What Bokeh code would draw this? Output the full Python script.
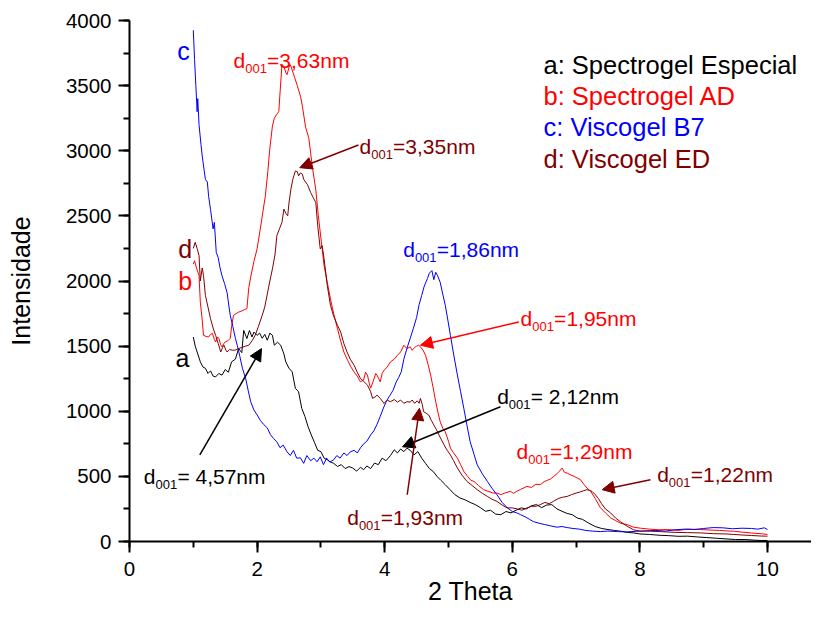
import math
from bokeh.plotting import figure
from bokeh.models import Range1d, Label, Arrow, NormalHead, SingleIntervalTicker
from bokeh.embed import file_html
from bokeh.resources import INLINE

# ---------------- data ----------------
a_x = [1.00,1.03,1.06,1.11,1.15,1.19,1.23,1.27,1.31,1.35,
       1.40,1.45,1.50,1.55,1.60,1.66,1.71,1.76,1.79,1.84,
       1.88,1.92,1.95,2.00,2.04,2.08,2.12,2.16,2.20,2.24,
       2.27,2.32,2.37,2.42,2.45,2.50,2.55,2.60,2.65,2.70,
       2.75,2.80,2.85,2.90,2.95,3.00,3.05,3.10,3.15,3.20,
       3.26,3.32,3.38,3.44,3.50,3.56,3.62,3.67,3.72,3.78,
       3.84,3.90,3.96,4.02,4.09,4.15,4.20,4.25,4.30,4.35,
       4.40,4.46,4.52,4.58,4.64,4.70,4.76,4.82,4.88,4.95,
       5.02,5.10,5.18,5.26,5.34,5.42,5.50,5.58,5.66,5.74,
       5.82,5.90,5.98,6.06,6.14,6.22,6.30,6.38,6.46,6.54,
       6.62,6.70,6.78,6.86,6.94,7.02,7.10,7.20,7.30,7.40,
       7.50,7.60,7.70,7.80,7.90,8.00,8.15,8.30,8.45,8.60,
       8.75,8.90,9.05,9.20,9.35,9.50,9.65,9.80,9.90,10.00]
a_y = [1570,1500,1455,1380,1340,1330,1290,1310,1270,1264,
       1290,1277,1320,1300,1379,1400,1481,1450,1621,1558,
       1620,1570,1608,1583,1600,1560,1590,1545,1600,1583,
       1507,1530,1507,1440,1379,1330,1303,1176,1150,1022,
       960,880,818,760,700,690,640,627,610,600,
       576,590,560,575,564,540,570,551,580,560,
       602,590,640,620,660,704,680,710,690,717,
       700,665,690,640,600,560,538,500,470,436,
       400,360,334,320,300,283,260,232,240,210,
       206,230,220,240,258,250,275,283,260,280,
       283,250,232,215,206,180,170,140,115,100,
       92,85,79,70,66,58,54,48,45,40,
       41,35,30,25,20,15,15,10,8,8]

b_x = [1.00,1.02,1.05,1.09,1.11,1.14,1.16,1.20,1.24,1.27,
       1.30,1.33,1.35,1.38,1.40,1.43,1.45,1.48,1.50,1.54,
       1.58,1.60,1.63,1.67,1.71,1.76,1.80,1.84,1.87,1.90,
       1.95,2.00,2.05,2.10,2.13,2.17,2.20,2.24,2.27,2.31,
       2.34,2.37,2.39,2.42,2.45,2.47,2.50,2.52,2.55,2.59,
       2.63,2.68,2.71,2.76,2.81,2.86,2.92,2.96,3.00,3.05,
       3.10,3.15,3.20,3.26,3.31,3.36,3.42,3.47,3.52,3.57,
       3.62,3.67,3.70,3.73,3.76,3.78,3.82,3.86,3.88,3.93,
       3.96,3.99,4.04,4.09,4.15,4.20,4.25,4.30,4.35,4.40,
       4.43,4.47,4.50,4.53,4.56,4.60,4.64,4.68,4.72,4.76,
       4.80,4.84,4.87,4.91,4.95,5.00,5.03,5.08,5.14,5.19,
       5.24,5.30,5.35,5.40,5.47,5.55,5.62,5.70,5.76,5.82,
       5.90,5.97,6.02,6.07,6.13,6.18,6.23,6.30,6.37,6.44,
       6.50,6.55,6.60,6.65,6.70,6.74,6.78,6.82,6.86,6.92,
       6.97,7.02,7.07,7.12,7.17,7.23,7.30,7.38,7.46,7.54,
       7.62,7.70,7.80,7.90,8.01,8.15,8.30,8.43,8.60,8.75,
       8.95,9.10,9.25,9.40,9.47,9.60,9.75,9.90,10.00]
b_y = [2130,2156,2100,2042,1838,1700,1583,1575,1570,1590,
       1598,1550,1532,1570,1560,1510,1494,1520,1532,1540,
       1560,1650,1736,1750,1761,1770,1780,1787,1950,2030,
       2150,2247,2400,2560,2654,2850,3020,3189,3250,3281,
       3300,3520,3661,3648,3600,3585,3640,3661,3620,3560,
       3500,3419,3342,3180,3100,2900,2700,2500,2330,2119,
       1990,1863,1750,1634,1540,1455,1390,1340,1302,1270,
       1226,1240,1300,1277,1210,1177,1230,1290,1277,1226,
       1290,1315,1340,1379,1400,1430,1455,1507,1481,1495,
       1468,1490,1500,1507,1495,1470,1430,1360,1277,1180,
       1073,980,920,870,843,770,717,680,640,590,
       538,500,470,461,430,398,385,372,372,360,
       375,385,370,385,400,411,423,415,440,436,
       460,470,480,500,520,540,564,530,525,510,
       500,487,474,440,411,385,330,260,220,182,
       160,140,130,110,102,95,90,92,85,95,
       92,88,85,80,79,72,65,60,54]

c_x = [1.00,1.02,1.04,1.06,1.07,1.09,1.12,1.14,1.17,1.19,
       1.22,1.24,1.27,1.31,1.33,1.36,1.39,1.42,1.45,1.49,
       1.53,1.56,1.58,1.62,1.66,1.69,1.73,1.77,1.82,1.86,
       1.90,1.95,2.00,2.05,2.10,2.16,2.21,2.26,2.31,2.36,
       2.41,2.47,2.52,2.57,2.62,2.68,2.73,2.78,2.84,2.89,
       2.94,2.99,3.04,3.09,3.14,3.20,3.25,3.30,3.36,3.41,
       3.46,3.52,3.57,3.62,3.67,3.72,3.78,3.83,3.88,3.93,
       3.98,4.03,4.08,4.13,4.18,4.22,4.26,4.30,4.35,4.40,
       4.45,4.50,4.54,4.58,4.62,4.67,4.70,4.74,4.77,4.80,
       4.83,4.87,4.91,4.95,4.99,5.03,5.08,5.14,5.19,5.24,
       5.29,5.34,5.40,5.45,5.53,5.61,5.68,5.76,5.84,5.92,
       6.00,6.07,6.13,6.20,6.27,6.33,6.42,6.51,6.60,6.70,
       6.78,6.86,6.95,7.05,7.15,7.25,7.38,7.50,7.65,7.80,
       7.95,8.10,8.25,8.40,8.55,8.70,8.85,9.00,9.15,9.30,
       9.45,9.60,9.75,9.85,9.95,10.00]
c_y = [3925,3700,3500,3300,3400,3200,3050,2960,2850,2780,
       2760,2650,2550,2400,2450,2220,2180,2100,2040,1980,
       1910,1800,1735,1650,1560,1505,1420,1330,1253,1160,
       1073,1010,972,930,900,872,820,790,765,720,
       740,688,660,700,640,642,600,660,620,640,
       612,650,590,640,610,627,660,640,680,660,
       688,700,680,719,750,770,818,850,900,960,
       1025,1080,1120,1160,1224,1260,1303,1400,1484,1560,
       1637,1720,1820,1889,1960,2019,2060,2080,2010,2067,
       2040,1990,1900,1812,1700,1583,1440,1277,1150,1023,
       890,765,670,589,520,461,410,359,300,260,
       230,220,206,190,170,153,140,130,120,110,
       115,107,100,95,85,80,76,80,76,74,
       78,82,85,80,90,95,92,100,107,105,
       98,102,100,95,105,92]

d_x = [1.00,1.03,1.06,1.09,1.11,1.14,1.16,1.19,1.23,1.27,
       1.31,1.35,1.39,1.43,1.46,1.48,1.51,1.53,1.57,1.61,
       1.66,1.71,1.76,1.82,1.87,1.92,1.97,2.02,2.08,2.12,
       2.16,2.20,2.24,2.28,2.31,2.35,2.39,2.42,2.45,2.48,
       2.50,2.53,2.56,2.60,2.63,2.65,2.68,2.71,2.73,2.76,
       2.79,2.84,2.88,2.92,2.95,2.99,3.02,3.05,3.10,3.15,
       3.20,3.26,3.31,3.36,3.41,3.46,3.52,3.57,3.62,3.67,
       3.73,3.78,3.81,3.85,3.88,3.93,3.99,4.04,4.09,4.15,
       4.20,4.25,4.30,4.35,4.40,4.43,4.47,4.51,4.54,4.56,
       4.59,4.61,4.65,4.69,4.73,4.77,4.81,4.85,4.89,4.93,
       4.98,5.03,5.08,5.14,5.21,5.29,5.37,5.45,5.53,5.61,
       5.68,5.76,5.84,5.92,6.00,6.08,6.15,6.23,6.30,6.37,
       6.44,6.51,6.58,6.65,6.72,6.79,6.86,6.93,7.00,7.06,
       7.12,7.17,7.21,7.25,7.30,7.35,7.40,7.46,7.54,7.62,
       7.70,7.80,7.90,8.00,8.17,8.35,8.55,8.75,8.95,9.15,
       9.35,9.47,9.60,9.75,9.90,10.00]
d_y = [2250,2297,2250,2195,2000,2100,2042,1889,1800,1711,
       1640,1583,1520,1455,1490,1507,1470,1455,1475,1468,
       1470,1481,1490,1500,1507,1540,1583,1650,1736,1800,
       1900,2000,2093,2200,2348,2400,2450,2552,2520,2501,
       2600,2705,2780,2845,2840,2807,2830,2820,2781,2760,
       2740,2679,2640,2603,2424,2246,2271,2170,1966,1813,
       1730,1660,1608,1520,1455,1400,1354,1300,1252,1230,
       1201,1150,1099,1110,1124,1099,1060,1086,1073,1090,
       1070,1086,1061,1073,1070,1086,1061,1080,1061,1099,
       1050,997,985,971,930,895,860,818,780,742,
       700,665,620,564,510,461,430,398,370,346,
       325,308,280,258,258,250,240,258,270,270,
       283,300,290,310,330,340,346,360,372,380,
       390,398,392,385,360,330,290,250,220,180,
       150,117,90,80,79,75,70,68,66,60,
       58,54,50,46,42,41]

curve_letters = ["a", "b", "c", "d"]
legend_texts = ["a: Spectrogel Especial", "b: Spectrogel AD", "c: Viscogel B7", "d: Viscogel ED"]
x_title = "2 Theta"
y_title = "Intensidade"

# ---------------- styles ----------------
FONT = "Liberation Sans"
BLACK, RED, BLUE, DRED = "#000000", "#ff0000", "#0000ff", "#800000"

p = figure(width=811, height=607, output_backend="svg", toolbar_location=None,
           x_range=Range1d(0, 10.69), y_range=Range1d(0, 4000),
           min_border_left=129, min_border_right=0, min_border_top=20, min_border_bottom=64)
p.outline_line_color = None
p.xgrid.visible = False
p.ygrid.visible = False
p.background_fill_color = "white"
p.border_fill_color = "white"

p.xaxis.ticker = SingleIntervalTicker(interval=2, num_minor_ticks=2)
p.yaxis.ticker = SingleIntervalTicker(interval=500, num_minor_ticks=2)
for ax in (p.xaxis, p.yaxis):
    ax.axis_line_color = "black"
    ax.axis_line_width = 2
    ax.major_tick_line_color = "black"
    ax.minor_tick_line_color = "black"
    ax.major_tick_line_width = 2
    ax.minor_tick_line_width = 2
    ax.major_tick_in = 0
    ax.major_tick_out = 11
    ax.minor_tick_in = 0
    ax.minor_tick_out = 6
    ax.major_label_text_font = FONT
    ax.major_label_text_font_size = "20.5px"
    ax.major_label_text_color = "black"
    ax.axis_label_text_font = FONT
    ax.axis_label_text_font_size = "25px"
    ax.axis_label_text_font_style = "normal"
    ax.axis_label_text_color = "black"
p.xaxis.major_label_standoff = 9
p.yaxis.major_label_standoff = 7
p.yaxis.axis_label = y_title
p.yaxis.axis_label_standoff = 28
p.xaxis.axis_label = x_title
p.xaxis.axis_label_standoff = -2

# ---------------- curves ----------------
p.line(a_x, a_y, line_color=BLACK, line_width=1)
p.line(b_x, b_y, line_color=RED, line_width=1)
p.line(c_x, c_y, line_color=BLUE, line_width=1)
p.line(d_x, d_y, line_color=DRED, line_width=1)

# curve letters
letter_pos = [(0.721, 1405), (0.763, 1998), (0.748, 3768), (0.763, 2246)]
letter_col = [BLACK, RED, BLUE, DRED]
for t, (lx, ly), col in zip(curve_letters, letter_pos, letter_col):
    p.add_layout(Label(x=lx, y=ly, text=t, text_font=FONT, text_font_size="25px",
                       text_color=col, text_baseline="alphabetic"))

# legend
legend_y = [3661, 3419, 3184, 2939]
for t, ly, col in zip(legend_texts, legend_y, letter_col):
    p.add_layout(Label(x=6.489, y=ly, text=t, text_font=FONT, text_font_size="25.5px",
                       text_color=col, text_baseline="alphabetic"))

# d001 annotations
def dlabel(x, y, rest, color):
    p.add_layout(Label(x=x, y=y, text="d", text_font=FONT, text_font_size="21px",
                       text_color=color, text_baseline="alphabetic"))
    p.add_layout(Label(x=x, y=y, x_offset=11.7, y_offset=-8, text="001", text_font=FONT,
                       text_font_size="13px", text_color=color, text_baseline="alphabetic"))
    p.add_layout(Label(x=x, y=y, x_offset=33.6, text=rest, text_font=FONT, text_font_size="21px",
                       text_color=color, text_baseline="alphabetic"))

annotations = [
    (1.630, 3694, "=3,63nm", RED),
    (3.605, 3031, "=3,35nm", DRED),
    (4.290, 2241, "=1,86nm", BLUE),
    (6.129, 1711, "=1,95nm", RED),
    (5.763, 1111, "= 2,12nm", BLACK),
    (6.066, 691, "=1,29nm", RED),
    (8.271, 512, "=1,22nm", DRED),
    (3.412, 181, "=1,93nm", DRED),
    (0.224, 499, "= 4,57nm", BLACK),
]
for ax_, ay_, txt, col in annotations:
    dlabel(ax_, ay_, txt, col)

arrows = [
    (3.589, 3044, 2.669, 2870, DRED),
    (6.102, 1685, 4.561, 1507, RED),
    (5.815, 1035, 4.279, 727, BLACK),
    (8.166, 474, 7.409, 398, DRED),
    (4.353, 359, 4.545, 1023, DRED),
    (1.102, 665, 2.069, 1481, BLACK),
]
for x0, y0, x1, y1, col in arrows:
    p.add_layout(Arrow(end=NormalHead(size=12, fill_color=col, line_color=col),
                       x_start=x0, y_start=y0, x_end=x1, y_end=y1,
                       line_color=col, line_width=1.5))

open("out.html", "w").write(file_html(p, INLINE))
